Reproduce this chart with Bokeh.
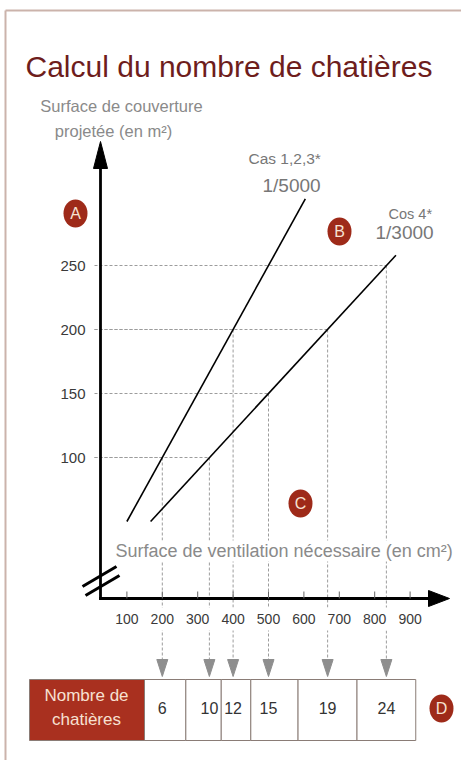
from bokeh.plotting import figure
from bokeh.models import Range1d
from bokeh.core.properties import value
from bokeh.embed import file_html
from bokeh.resources import INLINE

# ---------------- data ----------------
vent_ticks = [100, 200, 300, 400, 500, 600, 700, 800, 900]
surf_ticks = [100, 150, 200, 250]
cas123_vent = [100, 604]
cas123_surf = [50, 302]
cas4_vent = [167, 860]
cas4_surf = [50, 258]
read_ventil = [200, 333, 400, 500, 667, 833]
read_surface = [100, 100, 200, 150, 200, 250]
nb_chatieres = [6, 10, 12, 15, 19, 24]

# ---------------- layout ----------------
W, H = 461, 760
OX, OY = 0, 0
PX0, PXS = 91.0, 0.354
PY0, PYS = 585.0, 1.28


def dx(px):
    return (px - PX0) / PXS


def dy(py):
    return (PY0 - py) / PYS


FONT = value("Liberation Sans")
RED = "#9e2a19"
GRAY_TXT = "#8a8a8a"
DASH = "#9c9c9c"

p = figure(width=W, height=H,
           x_range=Range1d(dx(OX), dx(OX + W)),
           y_range=Range1d(dy(OY + H), dy(OY)),
           toolbar_location=None, output_backend="svg",
           min_border=0, x_axis_location=None, y_axis_location=None,
           outline_line_color=None, background_fill_color="white",
           border_fill_color="white")
p.xgrid.grid_line_color = None
p.ygrid.grid_line_color = None

# page frame (top and left edges)
p.segment(x0=[dx(5), dx(5)], y0=[dy(10), dy(10)], x1=[dx(470), dx(5)], y1=[dy(10), dy(770)],
          line_color="#cbb3ab", line_width=2)

# title
p.text(x=[dx(25)], y=[dy(66)], text=["Calcul du nombre de chatières"],
       text_font=FONT, text_font_size="30px", text_color="#6e1d1c",
       text_align="left", text_baseline="alphabetic")

# y axis title
p.text(x=[dx(121), dx(113)], y=[dy(105), dy(130)],
       text=["Surface de couverture", "projetée (en m²)"],
       text_font=FONT, text_font_size="16.5px", text_color=GRAY_TXT,
       text_align="center", text_baseline="middle")

# guides
n = len(read_ventil)
p.segment(x0=[dx(94)] * n, y0=read_surface, x1=read_ventil, y1=read_surface,
          line_color=DASH, line_width=1, line_dash="3 2")
p.segment(x0=read_ventil, y0=read_surface, x1=read_ventil, y1=[dy(660)] * n,
          line_color=DASH, line_width=1, line_dash="3 2")

# white bands behind axis texts
p.quad(left=[dx(112), dx(108)], right=[dx(460), dx(432)],
       top=[dy(540), dy(607)], bottom=[dy(561), dy(630)],
       fill_color="white", line_color=None)

# down arrows heads
xs, ys = [], []
for v in read_ventil:
    px = PX0 + PXS * v
    xs.append([dx(px - 5.5), dx(px + 5.5), dx(px)])
    ys.append([dy(659), dy(659), dy(676)])
p.patches(xs=xs, ys=ys, fill_color="#8e8e8e", line_color="#8e8e8e")

# data lines
p.line(cas123_vent, cas123_surf, line_color="black", line_width=1.6)
p.line(cas4_vent, cas4_surf, line_color="black", line_width=1.6)

# axes
p.line([dx(100), dx(100)], [dy(599.3), dy(165)], line_color="black", line_width=2.8)
p.line([dx(98.6), dx(432)], [dy(598), dy(598)], line_color="black", line_width=2.8)
p.patches(xs=[[dx(93), dx(107), dx(100)], [dx(428), dx(428), dx(449)]],
          ys=[[dy(168), dy(168), dy(141)], [dy(590), dy(606), dy(598)]],
          fill_color="black", line_color="black")
# axis break
p.segment(x0=[dx(82), dx(85)], y0=[dy(586), dy(595)],
          x1=[dx(116), dx(119)], y1=[dy(566), dy(575)],
          line_color="black", line_width=3)

# ticks
nt = len(vent_ticks)
p.segment(x0=vent_ticks, y0=[dy(598)] * nt, x1=vent_ticks, y1=[dy(591)] * nt,
          line_color="#666666", line_width=1)
p.text(x=vent_ticks, y=[dy(618)] * nt, text=[str(v) for v in vent_ticks],
       text_font=FONT, text_font_size="14px", text_color="#3a3a3a",
       text_align="center", text_baseline="middle")
p.text(x=[dx(85)] * len(surf_ticks), y=surf_ticks, text=[str(v) for v in surf_ticks],
       text_font=FONT, text_font_size="15px", text_color="#3a3a3a",
       text_align="right", text_baseline="middle")

# x axis title
p.text(x=[dx(115)], y=[dy(550)], text=["Surface de ventilation nécessaire (en cm²)"],
       text_font=FONT, text_font_size="18px", text_color=GRAY_TXT,
       text_align="left", text_baseline="middle")

# line labels
p.text(x=[dx(248), dx(262), dx(388), dx(375)],
       y=[dy(158), dy(185), dy(213), dy(232)],
       text=["Cas 1,2,3*", "1/5000", "Cos 4*", "1/3000"],
       text_font=FONT, text_font_size=["15.5px", "19px", "14.5px", "19px"],
       text_color="#777777", text_align="left", text_baseline="middle")

# table
mids = [(a + b) / 2 for a, b in zip(read_ventil[:-1], read_ventil[1:])]
lefts = [dx(144)] + mids
rights = mids + [2 * read_ventil[-1] - mids[-1]]
p.quad(left=lefts, right=rights, top=[dy(679)] * n, bottom=[dy(740)] * n,
       fill_color="white", line_color="#8a7c76", line_width=1)
p.quad(left=[dx(29)], right=[dx(144)], top=[dy(679)], bottom=[dy(740)],
       fill_color="#a9301f", line_color="#8a7c76", line_width=1)
p.text(x=[dx(86), dx(86)], y=[dy(695), dy(719)], text=["Nombre de", "chatières"],
       text_font=FONT, text_font_size="17px", text_color="#f7e1d2",
       text_align="center", text_baseline="middle")
p.text(x=read_ventil, y=[dy(707)] * n, text=[str(c) for c in nb_chatieres],
       text_font=FONT, text_font_size="16px", text_color="#333333",
       text_align="center", text_baseline="middle")

# letter badges
bx = [dx(75), dx(339), dx(300), dx(441)]
by = [dy(213), dy(231), dy(503), dy(708)]
p.ellipse(x=bx, y=by, width=24, height=28, width_units="screen", height_units="screen",
          fill_color=RED, line_color=None)
p.text(x=bx, y=by, text=["A", "B", "C", "D"], text_font=FONT,
       text_font_size="16px", text_color="#f6e2d3",
       text_align="center", text_baseline="middle")

open("out.html", "w").write(file_html(p, INLINE))
